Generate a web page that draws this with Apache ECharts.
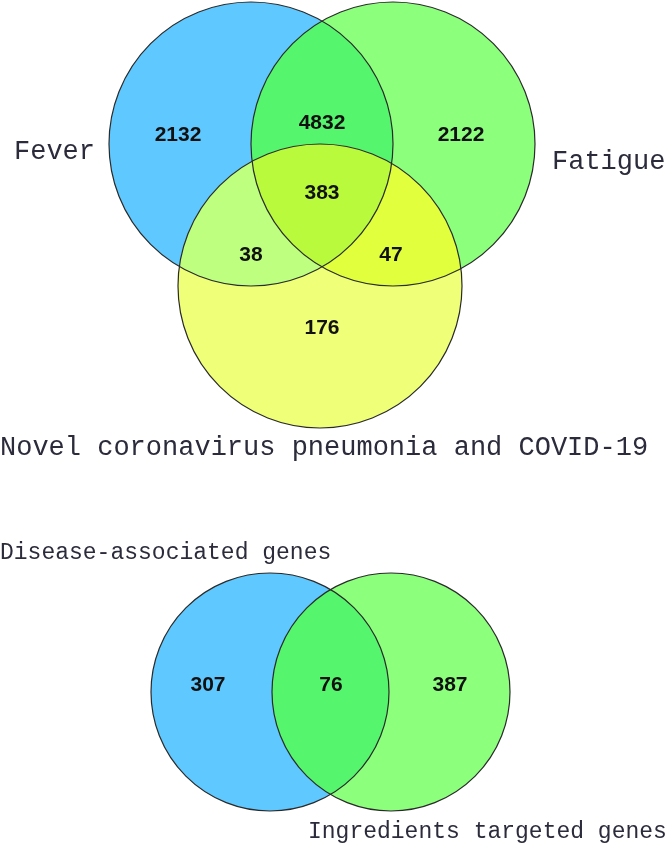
<!DOCTYPE html>
<html>
<head>
<meta charset="utf-8">
<script src="https://cdn.jsdelivr.net/npm/echarts@6/dist/echarts.min.js"></script>
<style>
  html, body { margin: 0; background: #fff; }
  #chart { width: 666px; height: 845px; }
</style>
</head>
<body>
<div id="chart"></div>
<script>
// 三集合韦恩图
const topSetNames = ['Fever', 'Fatigue', 'Novel coronavirus pneumonia and COVID-19']
const topRegions = ['Fever', 'Fever+Fatigue', 'Fatigue', 'All', 'Fever+COVID', 'Fatigue+COVID', 'COVID']
const topCounts = [2132, 4832, 2122, 383, 38, 47, 176]

// 两集合韦恩图
const bottomSetNames = ['Disease-associated genes', 'Ingredients targeted genes']
const bottomRegions = ['Disease', 'Shared', 'Ingredients']
const bottomCounts = [307, 76, 387]

// 布局 (坐标轴与页面像素 1:1)
const topCircles = [
  { cx: 251, cy: 144, r: 142 },
  { cx: 393, cy: 144, r: 142 },
  { cx: 320, cy: 286, r: 142 }
]
const topLabelPos = [[178, 135], [322, 123], [461, 135], [322, 193], [251, 255], [391, 255], [322, 328]]
const topNamePos = [[14, 152, 27], [552, 162, 27], [0, 448, 27]]

const bottomCircles = [
  { cx: 270, cy: 692, r: 119 },
  { cx: 391, cy: 692, r: 119 }
]
const bottomLabelPos = [[208, 685], [331, 685], [450, 685]]
const bottomNamePos = [[0, 553, 23], [308, 832, 23]]

const colors = {
  a: '#5fc8ff', b: '#8cff7d', c: '#f0ff78',
  ab: '#55f56e', ac: '#beff80', bc: '#e1ff3c', abc: '#b9fa3c'
}

// 两圆交点
const meet = (a, b) => {
  const dx = b.cx - a.cx, dy = b.cy - a.cy
  const d = Math.hypot(dx, dy)
  const l = (a.r * a.r - b.r * b.r + d * d) / (2 * d)
  const h = Math.sqrt(a.r * a.r - l * l)
  const mx = a.cx + dx * l / d, my = a.cy + dy * l / d
  const nx = -dy / d, ny = dx / d
  return [[mx - h * nx, my - h * ny], [mx + h * nx, my + h * ny]]
}
const inside = (p, c) => Math.hypot(p[0] - c.cx, p[1] - c.cy) < c.r

const renderItem = (params, api) => {
  const pt = (p) => api.coord(p)
  const rad = (r) => api.size([r, 0])[0]
  const arcTo = (r, p) => { const q = pt(p); return `A ${rad(r)} ${rad(r)} 0 0 1 ${q[0]} ${q[1]} ` }
  const mv = (p) => { const q = pt(p); return `M ${q[0]} ${q[1]} ` }

  const disc = (c, fill, stroke) => {
    const p = pt([c.cx, c.cy])
    return {
      type: 'circle',
      shape: { cx: p[0], cy: p[1], r: rad(c.r) },
      style: stroke ? { fill: 'none', stroke: '#2a2a2a', lineWidth: 1.2 } : { fill, stroke: 'none' }
    }
  }
  const lens = (a, b, fill) => {
    const [p, q] = meet(a, b)
    return { type: 'path', shape: { pathData: mv(p) + arcTo(a.r, q) + arcTo(b.r, p) + 'Z' }, style: { fill } }
  }
  const label = (text, p) => {
    const q = pt(p)
    return {
      type: 'text', x: q[0], y: q[1],
      style: { text: String(text), fill: '#111', fontSize: 21, fontWeight: 'bold', fontFamily: 'Liberation Sans', align: 'center', verticalAlign: 'middle' }
    }
  }
  const name = (text, p) => {
    const q = pt([p[0], p[1]])
    return {
      type: 'text', x: q[0], y: q[1],
      style: { text, fill: '#2b2b3b', fontSize: p[2], fontFamily: 'Liberation Mono', align: 'left', verticalAlign: 'middle' }
    }
  }

  const [A, B, C] = topCircles
  const xBC = meet(B, C).find((p) => inside(p, A))
  const xAC = meet(A, C).find((p) => inside(p, B))
  const xAB = meet(A, B).find((p) => inside(p, C))
  const triple = {
    type: 'path',
    shape: { pathData: mv(xBC) + arcTo(C.r, xAC) + arcTo(A.r, xAB) + arcTo(B.r, xBC) + 'Z' },
    style: { fill: colors.abc }
  }

  const [D, E] = bottomCircles

  const children = [
    disc(A, colors.a), disc(B, colors.b), disc(C, colors.c),
    lens(A, B, colors.ab), lens(A, C, colors.ac), lens(B, C, colors.bc), triple,
    disc(A, null, true), disc(B, null, true), disc(C, null, true),
    disc(D, colors.a), disc(E, colors.b), lens(D, E, colors.ab),
    disc(D, null, true), disc(E, null, true)
  ]
  topCounts.forEach((v, i) => children.push(label(v, topLabelPos[i])))
  bottomCounts.forEach((v, i) => children.push(label(v, bottomLabelPos[i])))
  topSetNames.forEach((s, i) => children.push(name(s, topNamePos[i])))
  bottomSetNames.forEach((s, i) => children.push(name(s, bottomNamePos[i])))

  return { type: 'group', children }
}

const chart = echarts.init(document.getElementById('chart'))
chart.setOption({
  backgroundColor: '#fff',
  animation: false,
  grid: { left: 0, right: 0, top: 0, bottom: 0 },
  xAxis: { type: 'value', min: 0, max: 666, show: false },
  yAxis: { type: 'value', min: 0, max: 845, inverse: true, show: false },
  series: [
    {
      type: 'custom',
      clip: false,
      silent: true,
      data: [[0, 0]],
      renderItem
    }
  ]
})
</script>
</body>
</html>
